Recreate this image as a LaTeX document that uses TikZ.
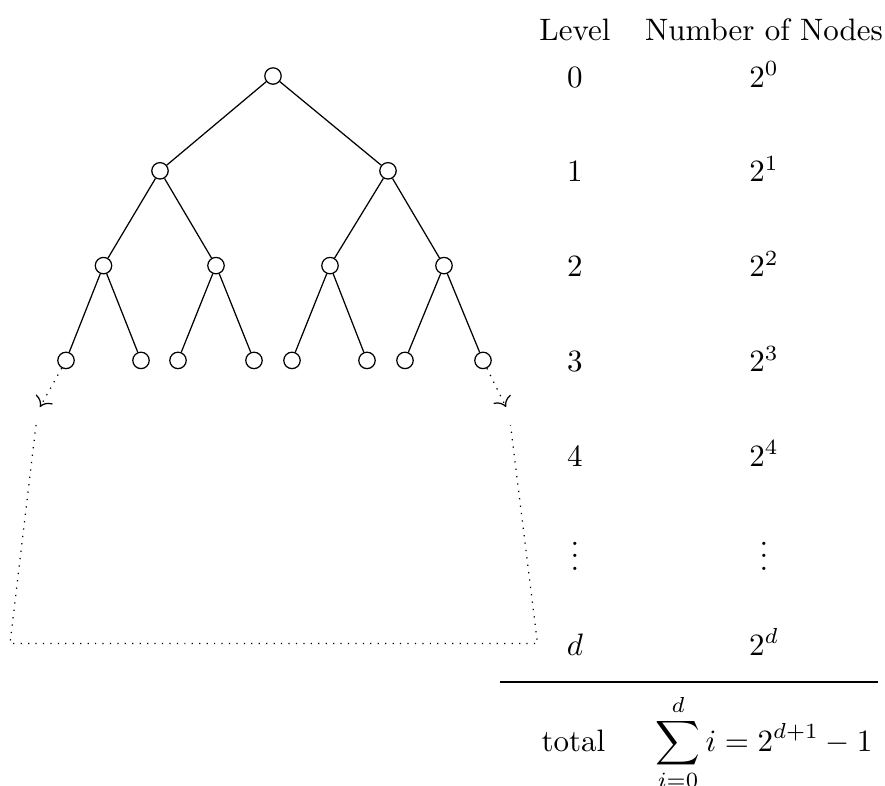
\documentclass[tikz,border=0pt]{standalone}
\usepackage{amsmath}
\usetikzlibrary{arrows.meta}
\begin{document}
\begin{tikzpicture}[x=0.3226pt,y=-0.3226pt,
  tnode/.style={circle,draw,inner sep=0pt,minimum size=5.3pt},
  lab/.style={anchor=base,inner sep=0pt},
  dotline/.style={dotted},
  dotarrow/.style={dotted,-{To[scale=1.2]}}]
\useasboundingbox (0,0) rectangle (885,785);
% tree
\node[tnode] (r) at (273,76) {};
\node[tnode] (a) at (160,170.8) {};
\node[tnode] (b) at (388,170.8) {};
\node[tnode] (aa) at (103.5,265.6) {};
\node[tnode] (ab) at (216,265.6) {};
\node[tnode] (ba) at (330,265.6) {};
\node[tnode] (bb) at (444,265.6) {};
\node[tnode] (aaa) at (66,360.4) {};
\node[tnode] (aab) at (141,360.4) {};
\node[tnode] (aba) at (178,360.4) {};
\node[tnode] (abb) at (254,360.4) {};
\node[tnode] (baa) at (292,360.4) {};
\node[tnode] (bab) at (367,360.4) {};
\node[tnode] (bba) at (405,360.4) {};
\node[tnode] (bbb) at (483,360.4) {};
\draw (r) -- (a); \draw (r) -- (b);
\draw (a) -- (aa); \draw (a) -- (ab);
\draw (b) -- (ba); \draw (b) -- (bb);
\draw (aa) -- (aaa); \draw (aa) -- (aab);
\draw (ab) -- (aba); \draw (ab) -- (abb);
\draw (ba) -- (baa); \draw (ba) -- (bab);
\draw (bb) -- (bba); \draw (bb) -- (bbb);
% dotted continuation
\coordinate (tl) at (40,407);
\coordinate (tr) at (506,407);
\draw[dotarrow] (aaa) -- (tl);
\draw[dotarrow] (bbb) -- (tr);
\coordinate (f1) at (36,425);
\coordinate (f2) at (10,643.5);
\coordinate (f3) at (537.5,643.5);
\coordinate (f4) at (510.5,425);
\draw[dotline] (f1) -- (f2) -- (f3) -- (f4);
% table
\node[lab] (hl) at (575,40) {Level};
\node[lab] (hn) at (764,40) {Number of Nodes};
\node[lab] (l0) at (575,87) {$0$};
\node[lab] (n0) at (764,87) {$2^0$};
\node[lab] (l1) at (575,181.8) {$1$};
\node[lab] (n1) at (764,181.8) {$2^1$};
\node[lab] (l2) at (575,276.6) {$2$};
\node[lab] (n2) at (764,276.6) {$2^2$};
\node[lab] (l3) at (575,371.4) {$3$};
\node[lab] (n3) at (764,371.4) {$2^3$};
\node[lab] (l4) at (575,466.2) {$4$};
\node[lab] (n4) at (764,466.2) {$2^4$};
\node[lab] (l5) at (575,570) {$\vdots$};
\node[lab] (n5) at (764,570) {$\vdots$};
\node[lab] (l6) at (575,655) {$d$};
\node[lab] (n6) at (764,655) {$2^d$};
\coordinate (rl) at (500,682);
\coordinate (rr) at (878,682);
\draw (rl) -- (rr);
\node[lab] (tt) at (573.5,751) {total};
\node[lab] (te) at (764,751) {$\displaystyle\sum_{i=0}^{d} i = 2^{d+1}-1$};
\end{tikzpicture}
\end{document}
